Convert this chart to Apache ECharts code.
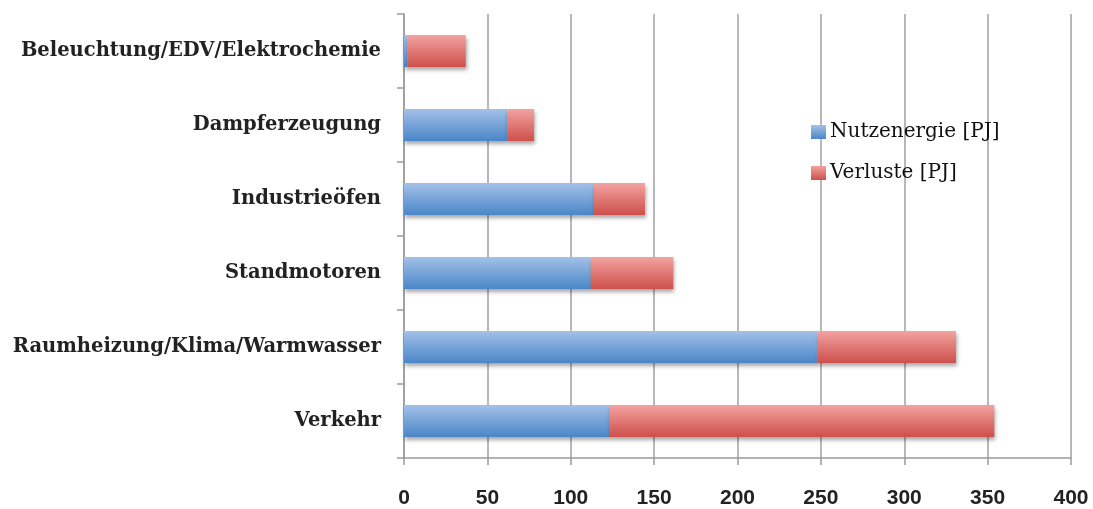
<!DOCTYPE html>
<html><head><meta charset="utf-8">
<script src="https://cdn.jsdelivr.net/npm/echarts@6/dist/echarts.min.js"></script>
<style>html,body{margin:0;padding:0;background:#fff}#c{width:1093px;height:509px}</style>
</head><body><div id="c"></div>
<script>
const categories = ["Verkehr","Raumheizung/Klima/Warmwasser","Standmotoren","Industrieöfen","Dampferzeugung","Beleuchtung/EDV/Elektrochemie"];
const nutzenergie = [123, 248, 112, 114, 62, 2];
const verluste = [231, 83, 49.5, 30.5, 16, 35];
const xTicks = [0, 50, 100, 150, 200, 250, 300, 350, 400];
const seriesNames = ["Nutzenergie [PJ]", "Verluste [PJ]"];

function grad(top, bottom){
  return new echarts.graphic.LinearGradient(0,0,0,1,[{offset:0,color:top},{offset:1,color:bottom}]);
}
const chart = echarts.init(document.getElementById('c'));
const shadow = {shadowBlur:4, shadowOffsetX:1, shadowOffsetY:3, shadowColor:'rgba(0,0,0,0.35)'};
chart.setOption({
  animation:false,
  grid:{left:404, right:22, top:14, bottom:51, containLabel:false},
  legend:{
    orient:'vertical', left:806, top:117, itemWidth:15, itemHeight:14, itemGap:21, icon:'rect',
    textStyle:{fontFamily:'DejaVu Serif', fontSize:20, color:'#111', padding:[0,0,0,-1]},
    data:[{name:seriesNames[0], itemStyle:{color:grad('#a3c1e8','#4a86c8')}},
          {name:seriesNames[1], itemStyle:{color:grad('#f3a3a0','#cd4f4b')}}]
  },
  xAxis:{
    type:'value', min:xTicks[0], max:xTicks[xTicks.length-1], interval:xTicks[1]-xTicks[0],
    axisLine:{show:true, lineStyle:{color:'#9a9a9a', width:1.5}},
    axisTick:{show:true, length:7, lineStyle:{color:'#9a9a9a', width:1.5}},
    splitLine:{show:true, lineStyle:{color:'#a0a0a0', width:1.5}},
    axisLabel:{margin:30, fontFamily:'Liberation Sans', fontWeight:'bold', fontSize:21, color:'#222'}
  },
  yAxis:{
    type:'category', data:categories,
    axisLine:{show:true, lineStyle:{color:'#9a9a9a', width:1.5}},
    axisTick:{show:true, length:7, lineStyle:{color:'#9a9a9a', width:1.5}},
    axisLabel:{margin:23, fontFamily:'DejaVu Serif', fontWeight:'bold', fontSize:19.5, color:'#222'}
  },
  series:[
    {name:seriesNames[0], type:'bar', stack:'a', data:nutzenergie, barWidth:32,
     itemStyle:Object.assign({color:grad('#a3c1e8','#4a86c8')}, shadow)},
    {name:seriesNames[1], type:'bar', stack:'a', data:verluste, barWidth:32,
     itemStyle:Object.assign({color:grad('#f3a3a0','#cd4f4b')}, shadow)}
  ]
});
</script></body></html>
